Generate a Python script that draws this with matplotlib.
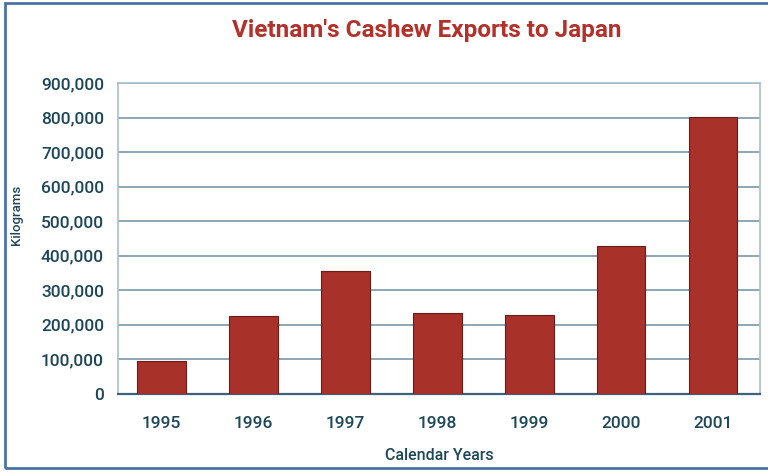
import matplotlib.pyplot as plt
from matplotlib.patches import Rectangle
from matplotlib.ticker import FuncFormatter

years = ["1995", "1996", "1997", "1998", "1999", "2000", "2001"]
kilograms = [95000, 226000, 355000, 235000, 229000, 428000, 803000]
y_ticks = [0, 100000, 200000, 300000, 400000, 500000, 600000, 700000, 800000, 900000]

plt.rcParams['font.family'] = ['Roboto', 'Liberation Sans', 'DejaVu Sans']
plt.rcParams['font.weight'] = 'medium'
text_color = "#1d4658"
bar_color = "#a8312a"

fig = plt.figure(figsize=(7.68, 4.73), dpi=100)
ax = fig.add_axes([118/768, 1 - 394/473, (760-118)/768, (394-83)/473])

ax.bar(range(len(years)), kilograms, width=0.53, color=bar_color,
       edgecolor="#6a1d18", linewidth=0.8, zorder=3)

ax.set_xlim(-0.47, 6.51)
ax.set_ylim(0, 900000)
ax.set_yticks(y_ticks)
ax.yaxis.set_major_formatter(FuncFormatter(lambda v, p: f"{int(v):,}"))
ax.set_xticks(range(len(years)))
ax.set_xticklabels(years)
ax.grid(axis="y", color="#86a0b0", linewidth=1.3, zorder=1)
ax.tick_params(length=0, labelsize=12.5, colors=text_color, pad=10)
ax.tick_params(axis="x", pad=16)
for s in ["left", "right", "top"]:
    ax.spines[s].set_color("#a9bfcc")
    ax.spines[s].set_linewidth(1.2)
ax.spines["bottom"].set_color("#3d6279")
ax.spines["bottom"].set_linewidth(1.6)

ax.set_xlabel("Calendar Years", fontsize=11.5, color=text_color, labelpad=12,
              fontweight="medium")
fig.text(16/768, 1 - 215/473, "Kilograms", rotation=90, fontsize=9.5,
         color=text_color, ha="center", va="center", fontweight="medium")
fig.text(427/768, 1 - 30/473, "Vietnam's Cashew Exports to Japan", fontsize=17.5,
         fontweight="bold", color="#b3312a", ha="center", va="center")

fig.patches.append(Rectangle((5/768, 5/473), 1.2, 1 - 8/473, transform=fig.transFigure,
                             fill=False, edgecolor="#4a72a8", linewidth=2))

fig.savefig("out.png", dpi=100)
